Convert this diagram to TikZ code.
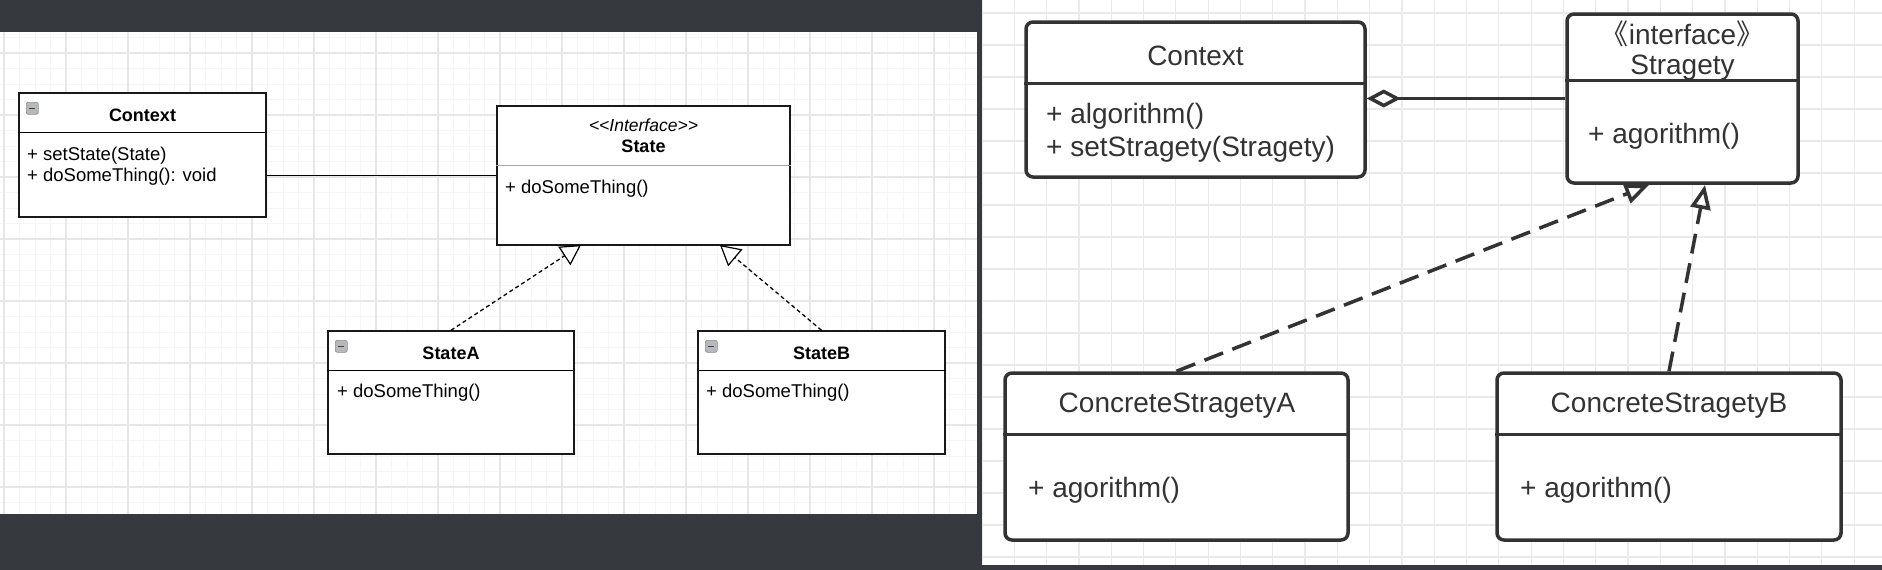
\documentclass[tikz,border=0pt]{standalone}
\usepackage{fontspec}
\setmainfont{Liberation Sans}
\newfontfamily\cjk{Noto Sans CJK SC}
\usetikzlibrary{arrows.meta}

\definecolor{panelbg}{RGB}{54,57,62}
\definecolor{gridmin}{RGB}{246,246,246}
\definecolor{gridmaj}{RGB}{231,231,231}
\definecolor{gridr}{RGB}{234,234,234}
\definecolor{ink}{RGB}{51,51,51}
\definecolor{iconfill}{RGB}{182,184,188}

\tikzset{
  lbox/.style={draw=black!90, line width=1.4pt, fill=white, inner sep=0pt},
  rbox/.style={draw=ink, line width=3.5pt, fill=white, rounded corners=7pt, inner sep=0pt},
  ltitle/.style={font=\fontsize{18}{21}\selectfont\bfseries, inner sep=0pt},
  lmeth/.style={font=\fontsize{18.5}{21}\selectfont, anchor=west, inner sep=0pt},
  rtitle/.style={font=\fontsize{28}{33}\selectfont, text=ink, inner sep=0pt},
  rmeth/.style={font=\fontsize{28}{33}\selectfont, text=ink, anchor=west, inner sep=0pt},
  minusicon/.style={draw=black!45, fill=iconfill, rounded corners=2pt, line width=0.6pt,
    minimum size=12pt, inner sep=0pt,
    path picture={\draw[line width=1.6pt, black!75]
      ([xshift=-3pt]path picture bounding box.center) -- ([xshift=3pt]path picture bounding box.center);}},
  ldash/.style={line width=1.3pt, dash pattern=on 4pt off 3pt,
    -{Triangle[open, length=20pt, width=22pt, line width=1.2pt]}},
  rdash/.style={draw=ink, line width=3.5pt, dash pattern=on 20pt off 10pt,
    -{Triangle[open, length=24pt, width=20pt, line width=3.5pt]}},
  ragg/.style={draw=ink, line width=3.5pt,
    {Diamond[open, length=34pt, width=18pt, line width=3.5pt]}-}
}

\begin{document}
\begin{tikzpicture}[x=1pt,y=-1pt]
  \useasboundingbox (0,0) rectangle (1882,570);
  \fill[panelbg] (0,0) rectangle (1882,570);
  \fill[white] (0,32) rectangle (977,514);
  \fill[white] (982,0) rectangle (1882,565);
  \begin{scope}
    \clip (0,32) rectangle (977,514);
    \foreach \x in {4,19.5,...,980} \draw[gridmin, line width=1pt] (\x,32) -- (\x,514);
    \foreach \y in {-9,6.5,...,520} \draw[gridmin, line width=1pt] (0,\y) -- (977,\y);
    \foreach \x in {4,66,...,980} \draw[gridmaj, line width=1.2pt] (\x,32) -- (\x,514);
    \foreach \y in {-9,53,...,520} \draw[gridmaj, line width=1.2pt] (0,\y) -- (977,\y);
  \end{scope}
  \begin{scope}
    \clip (982,0) rectangle (1882,565);
    \foreach \x in {982,1014.3,...,1885} \draw[gridr, line width=1.2pt] (\x,0) -- (\x,565);
    \foreach \y in {13,45,...,565} \draw[gridr, line width=1.2pt] (982,\y) -- (1882,\y);
  \end{scope}

  % left panel
  \node[lbox, minimum width=247pt, minimum height=124pt] (ctxL) at (142.5,155) {};
  \node[lbox, minimum width=293pt, minimum height=139pt] (stateL) at (643.5,175.5) {};
  \node[lbox, minimum width=246pt, minimum height=123pt] (stateA) at (451,392.5) {};
  \node[lbox, minimum width=247pt, minimum height=123pt] (stateB) at (821.5,392.5) {};
  \foreach \b in {ctxL,stateA,stateB}{
    \draw[line width=1.4pt] ([yshift=-40pt]\b.north west) -- ([yshift=-40pt]\b.north east);
    \node[minusicon] (icon-\b) at ([xshift=14pt,yshift=-16pt]\b.north west) {};
  }
  \draw[black!35, line width=1.2pt] ([yshift=-60pt]stateL.north west) -- ([yshift=-60pt]stateL.north east);

  \node[ltitle] (ctxLname) at (142.5,115) {Context};
  \node[lmeth] (ctxLm1) at (27,156) {+ setState(State)};
  \node[lmeth] (ctxLm2) at (27,177) {+ doSomeThing(): void};
  \node[inner sep=0pt, font=\fontsize{17.5}{21}\selectfont\itshape] (stateLst) at (643.5,125)
    {\mbox{<}\mbox{<}Interface\mbox{>}\mbox{>}};
  \node[ltitle] (stateLname) at (643.5,146) {State};
  \node[lmeth] (stateLm) at (505,189) {+ doSomeThing()};
  \node[ltitle] (stateAname) at (451,353) {StateA};
  \node[lmeth] (stateAm) at (337,393) {+ doSomeThing()};
  \node[ltitle] (stateBname) at (821.5,353) {StateB};
  \node[lmeth] (stateBm) at (706,393) {+ doSomeThing()};

  \coordinate (tipA) at (581,245);
  \coordinate (tipB) at (720,245);
  \draw[line width=1.4pt] (ctxL.east |- stateL.west) -- (stateL.west);
  \draw[ldash] (stateA.north) -- (tipA);
  \draw[ldash] (stateB.north) -- (tipB);

  % right panel
  \node[rbox, minimum width=339pt, minimum height=155pt] (ctxR) at (1195.5,99.5) {};
  \node[rbox, minimum width=231pt, minimum height=169pt] (strat) at (1682.5,98.5) {};
  \node[rbox, minimum width=343pt, minimum height=167pt] (concA) at (1176.5,456.5) {};
  \node[rbox, minimum width=344pt, minimum height=167pt] (concB) at (1669,456.5) {};
  \draw[ink, line width=3.5pt] ([yshift=-63pt]ctxR.north west) -- ([yshift=-63pt]ctxR.north east);
  \draw[ink, line width=3.5pt] ([yshift=-68pt]strat.north west) -- ([yshift=-68pt]strat.north east);
  \foreach \b in {concA,concB}
    \draw[ink, line width=3.5pt] ([yshift=-63pt]\b.north west) -- ([yshift=-63pt]\b.north east);

  \node[rtitle] (ctxRname) at (1195.5,56) {Context};
  \node[rmeth] (ctxRm1) at (1046,116) {+ algorithm()};
  \node[rmeth] (ctxRm2) at (1046,149) {+ setStragety(Stragety)};
  \node[rtitle] (stratst) at (1682.5,34) {{\cjk 《}interface{\cjk 》}};
  \node[rtitle] (stratname) at (1682.5,68) {Stragety};
  \node[rmeth] (stratm) at (1588,136) {+ agorithm()};
  \node[rtitle] (concAname) at (1177,406) {ConcreteStragetyA};
  \node[rmeth] (concAm) at (1028,490) {+ agorithm()};
  \node[rtitle] (concBname) at (1669,406) {ConcreteStragetyB};
  \node[rmeth] (concBm) at (1520,490) {+ agorithm()};

  \coordinate (tipC) at (1649,185);
  \coordinate (tipD) at (1705,185);
  \draw[ragg] (ctxR.east |- strat.west) -- (strat.west);
  \draw[rdash] (concA.north) -- (tipC);
  \draw[rdash] (concB.north) -- (tipD);
\end{tikzpicture}
\end{document}
